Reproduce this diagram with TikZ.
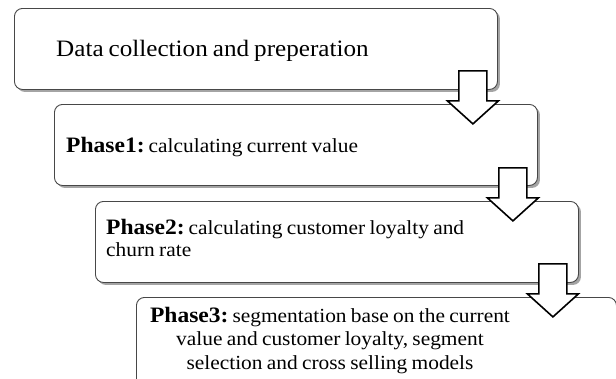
\documentclass[tikz,border=0pt]{standalone}
\usepackage{fontspec}
\setmainfont{Liberation Serif}[FakeStretch=1.07, WordSpace=0.8]
\usetikzlibrary{shadows}

\tikzset{
  stagebox/.style={draw=black!72, line width=0.9pt, rounded corners=8pt, fill=white,
    minimum width=483pt, minimum height=81pt, anchor=north west, inner sep=0pt,
    drop shadow={shadow xshift=2.5pt, shadow yshift=-2.5pt, opacity=0.55, fill=black!65}},
  stagetext/.style={inner sep=0pt, font=\fontsize{20}{22}\selectfont},
  flowarrow/.style={draw=black, line width=1.6pt, fill=white, line join=miter},
  downarrow/.pic={
    \draw[flowarrow] (-14,0) -- (14,0) -- (14,30) -- (25.5,30) -- (0,53)
      -- (-25.5,30) -- (-14,30) -- cycle;
  }
}
% bold phase label followed by a narrow gap
\newcommand{\phasetag}[1]{{\fontsize{22}{22}\selectfont\bfseries #1}\hspace{4pt}}

\begin{document}
\begin{tikzpicture}[x=1pt, y=-1pt]
  \useasboundingbox (0,0) rectangle (616,378);
  \clip (0,0) rectangle (616,378);

  % stage boxes, stepping down to the right
  \node[stagebox] (b1) at (14,8) {};
  \node[stagebox] (b2) at (54,104) {};
  % arrow from stage 1 to stage 2
  \path (b1.south east) ++(-25,-19) pic {downarrow};
  \node[stagebox] (b3) at (95,201) {};
  \path (b2.south east) ++(-25,-18) pic {downarrow};
  % the last box runs past the lower edge
  \node[stagebox, minimum width=480pt, minimum height=95pt] (b4) at (136,297) {};
  \path (b3.south east) ++(-26,-19) pic {downarrow};

  % texts
  \node[stagetext, anchor=base west, font=\fontsize{23.5}{26}\selectfont] (t1) at (56,56)
    {Data collection and preperation};
  \node[stagetext, anchor=base west] (t2) at (66,152)
    {\phasetag{Phase1:}calculating current value};
  \node[stagetext, anchor=north west, align=left] (t3) at (106,219)
    {\phasetag{Phase2:}calculating customer loyalty and\\churn rate};
  \node[stagetext, anchor=north, align=center, font=\fontsize{20}{23.5}\selectfont] (t4) at (330,307)
    {\phasetag{Phase3:}segmentation base on the current\\value and customer loyalty, segment\\selection and cross selling models};
\end{tikzpicture}
\end{document}
